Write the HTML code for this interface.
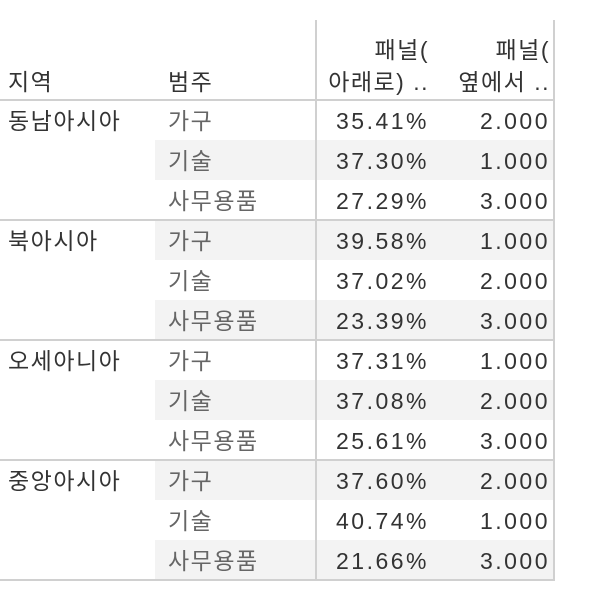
<!DOCTYPE html>
<html><head><meta charset="utf-8"><style>
body{margin:0;background:#fff;}
#t{position:relative;width:598px;height:594px;overflow:hidden;font-family:"Liberation Sans","Noto Sans CJK KR",sans-serif;font-size:23px;color:#333;}
.a{position:absolute;white-space:nowrap;line-height:24px;letter-spacing:1.5px;}
.r{text-align:right;}
.n{letter-spacing:2.5px;}
.ln{position:absolute;background:#d0d0d0;}
.sh{position:absolute;background:#f3f3f3;}
</style></head><body>
<div id="t">
<div class="ln" style="left:315px;top:20px;width:2px;height:560px"></div>
<div class="ln" style="left:553px;top:20px;width:2px;height:560px"></div>
<div class="a" style="left:8px;top:70px">지역</div>
<div class="a" style="left:168px;top:70px">범주</div>
<div class="a r" style="right:169px;top:34px;line-height:32px">패널(<br>아래로) ..</div>
<div class="a r" style="right:48px;top:34px;line-height:32px">패널(<br>옆에서 ..</div>
</div>
<script>
const regions=["동남아시아","북아시아","오세아니아","중앙아시아"];
const categories=["가구","기술","사무용품"];
const pctValues=["35.41%","37.30%","27.29%","39.58%","37.02%","23.39%","37.31%","37.08%","25.61%","37.60%","40.74%","21.66%"];
const rankValues=["2.000","1.000","3.000","1.000","2.000","3.000","1.000","2.000","3.000","2.000","1.000","3.000"];
const t=document.getElementById('t');
function add(cls,style,text){const d=document.createElement('div');d.className=cls;d.setAttribute('style',style);if(text!==undefined)d.textContent=text;t.appendChild(d);return d;}
const top0=100,rh=40;
const hl=add('ln','left:0;top:99px;width:555px;height:2px');


for(let i=0;i<12;i++){
  const y=top0+i*rh;
  if(i%2===1){const s=add('sh',`left:155px;top:${y}px;width:398px;height:${rh}px`);
    
    }
}
t.querySelectorAll('.ln').forEach(l=>t.appendChild(l));
for(let g=0;g<regions.length;g++){
  const y=top0+g*3*rh;
  const rl=add('a',`left:8px;top:${y+9}px;color:#333`,regions[g]);
  
  
  const sep=add('ln',`left:0;top:${y+3*rh-1}px;width:555px;height:2px`);
  
  
  for(let c=0;c<3;c++){
    const i=g*3+c,ry=top0+i*rh;
    const cl=add('a',`left:168px;top:${ry+9}px;color:#666`,categories[c]);
    
    
    const p=add('a r n',`right:169px;top:${ry+9}px`,pctValues[i]);
    
    
    const k=add('a r n',`right:48px;top:${ry+9}px`,rankValues[i]);
    
    
  }
}
</script>
</body></html>
